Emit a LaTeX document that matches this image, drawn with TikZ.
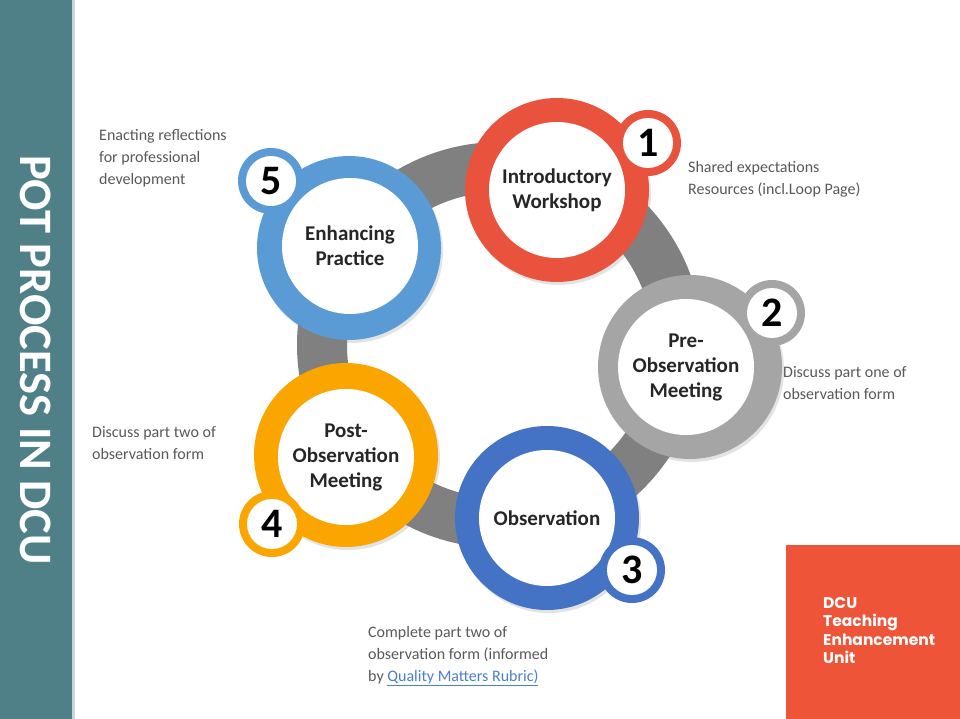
\documentclass[tikz,border=0pt]{standalone}
\usepackage{fontspec}
\setmainfont{Carlito}
\newfontfamily\dcufont{Poppins}
\usetikzlibrary{shadows}
\definecolor{barteal}{HTML}{4F7F87}
\definecolor{barline}{HTML}{C9D6D8}
\definecolor{ringgray}{HTML}{808080}
\definecolor{cred}{HTML}{E9523C}
\definecolor{cgray}{HTML}{A5A5A5}
\definecolor{cblue}{HTML}{4472C4}
\definecolor{corange}{HTML}{FBA500}
\definecolor{clight}{HTML}{5B9BD5}
\definecolor{dcured}{HTML}{EE5538}
\definecolor{labgray}{HTML}{595959}
\definecolor{linkblue}{HTML}{4A7FD0}
\tikzset{
  bigc/.style={circle, inner sep=0pt, minimum size=184pt, fill=#1,
    drop shadow={opacity=0.22, shadow xshift=2pt, shadow yshift=-3pt}},
  innerc/.style={circle, inner sep=0pt, minimum size=136pt, fill=white, align=center,
    font=\fontsize{21}{25}\selectfont\bfseries, text=black!85},
  badge/.style={circle, inner sep=0pt, minimum size=66pt, fill=#1},
  badgein/.style={circle, inner sep=0pt, minimum size=50pt, fill=white,
    font=\fontsize{42}{42}\selectfont\bfseries, text=black},
  lab/.style={anchor=north west, align=left, inner sep=0pt,
    font=\fontsize{16}{22}\selectfont, text=labgray},
}
\begin{document}
\begin{tikzpicture}[x=1pt,y=-1pt]
\useasboundingbox (0,0) rectangle (960,719);
\fill[white] (0,0) rectangle (960,719);
% left bar
\fill[barteal] (0,0) rectangle (72,719);
\fill[barline] (72,0) rectangle (75,719);
\node[rotate=-90, text=white, inner sep=0pt, font=\fontsize{46.5}{46.5}\selectfont\bfseries] (title) at (36,360) {POT PROCESS IN DCU};
% grey ring
\coordinate (ringc) at (500,345);
\fill[ringgray, even odd rule] (ringc) circle[radius=203pt] (ringc) circle[radius=153pt];
% circle 1
\node[bigc=cred] (c1) at (557,190) {};
\node[innerc] (t1) at (c1) {Introductory\\Workshop};
\node[badge=cred] (b1o) at (648,143) {};
\node[badgein] (b1) at (b1o) {1};
% circle 2
\node[bigc=cgray] (c2) at (690,367) {};
\node[innerc] (t2) at (686,367) {Pre-\\Observation\\Meeting};
\node[badge=cgray] (b2o) at (772,313) {};
\node[badgein] (b2) at (b2o) {2};
% circle 3
\node[bigc=cblue] (c3) at (547,518) {};
\node[innerc] (t3) at (c3) {Observation};
\node[badge=cblue] (b3o) at (632,570) {};
\node[badgein] (b3) at (b3o) {3};
% circle 4
\node[bigc=corange] (c4) at (346,455) {};
\node[innerc] (t4) at (346,457) {Post-\\Observation\\Meeting};
\node[badge=corange] (b4o) at (272,524) {};
\node[badgein] (b4) at (b4o) {4};
% circle 5
\node[bigc=clight] (c5) at (349,248) {};
\node[innerc] (t5) at (350,246) {Enhancing\\Practice};
\node[badge=clight] (b5o) at (271,181) {};
\node[badgein] (b5) at (b5o) {5};
% labels
\node[lab] (l5) at (99,129) {Enacting reflections\\for professional\\development};
\node[lab] (l1) at (688,161) {Shared expectations\\Resources (incl.Loop Page)};
\node[lab] (l2) at (783,366) {Discuss part one of\\observation form};
\node[lab] (l4) at (92,426) {Discuss part two of\\observation form};
\node[lab] (l3) at (368,626) {Complete part two of\\observation form (informed\\by \textcolor{linkblue}{\underline{Quality Matters Rubric)}}};
% DCU box
\fill[dcured] (786,545) rectangle (960,719);
\node[anchor=north west, align=left, inner sep=0pt, text=white,
  font=\dcufont\fontsize{15.5}{18.5}\selectfont\bfseries] (dcu) at (823,597) {DCU\\Teaching\\Enhancement\\Unit};
\end{tikzpicture}
\end{document}
